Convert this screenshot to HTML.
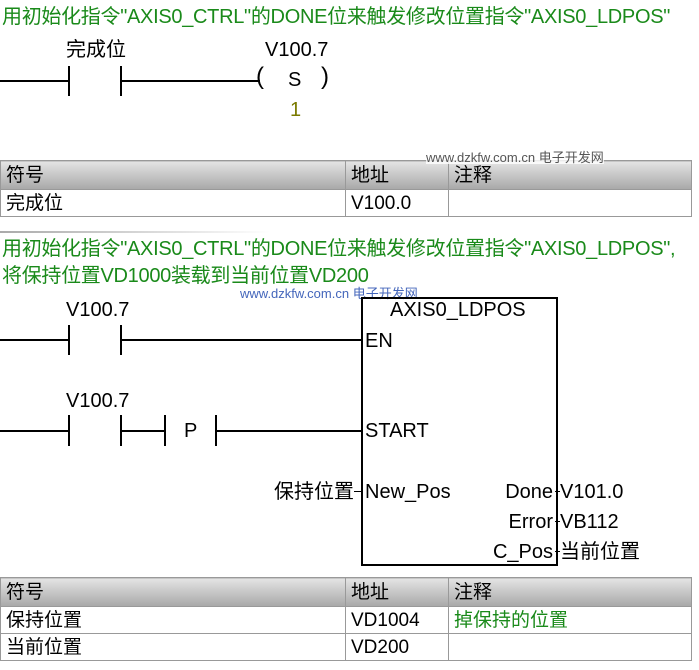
<!DOCTYPE html>
<html><head><meta charset="utf-8"><style>
body{margin:0;width:699px;height:670px;background:#fff;position:relative;overflow:hidden;font-family:"Liberation Sans","Noto Sans CJK SC",sans-serif;}
.t{position:absolute;white-space:nowrap;line-height:1;}
.g{color:#1a8a1a;font-size:20px;}
.k{color:#000;font-size:20px;}
.r{text-align:right;}
.h{position:absolute;background:#000;height:2px;}
.v{position:absolute;background:#000;width:2px;}
table{position:absolute;left:0;border-collapse:collapse;font-size:19px;}
td{border:1px solid #999;padding:0 5px;height:26px;line-height:1;}
tr.hd td{background:linear-gradient(#e4e4e4,#a8a8a8);height:28px;}
</style></head><body>
<div class="t g" style="left:2px;top:7px;letter-spacing:-0.3px">用初始化指令"AXIS0_CTRL"的DONE位来触发修改位置指令"AXIS0_LDPOS"</div>
<div class="t k" style="left:66px;top:40px">完成位</div>
<div class="t k" style="left:265px;top:40px">V100.7</div>
<div class="h" style="left:0;top:80px;width:69px"></div>
<div class="v" style="left:68px;top:66px;height:30px"></div>
<div class="v" style="left:120px;top:66px;height:30px"></div>
<div class="h" style="left:120px;top:80px;width:140px"></div>
<div class="t k" style="left:256px;top:65px;font-size:24px">(</div>
<div class="t k" style="left:288px;top:70px">S</div>
<div class="t k" style="left:321px;top:65px;font-size:24px">)</div>
<div class="t" style="left:290px;top:100px;font-size:20px;color:#7a7a00">1</div>
<table style="top:160px;width:692px">
<tr class="hd"><td style="width:334px">符号</td><td style="width:92px">地址</td><td>注释</td></tr>
<tr><td>完成位</td><td>V100.0</td><td></td></tr>
</table>
<div class="t" style="left:426px;top:151px;font-size:13px;color:#555;background:rgba(255,255,255,.8)">www.dzkfw.com.cn 电子开发网</div>
<div class="h" style="left:0;top:231px;width:270px;height:2px;background:linear-gradient(90deg,#aaa,#fff)"></div>
<div class="t g" style="left:2px;top:239px;letter-spacing:-0.3px">用初始化指令"AXIS0_CTRL"的DONE位来触发修改位置指令"AXIS0_LDPOS",</div>
<div class="t g" style="left:2px;top:266px;letter-spacing:-0.3px">将保持位置VD1000装载到当前位置VD200</div>
<div class="t" style="left:240px;top:287px;font-size:13px;color:#4466bb">www.dzkfw.com.cn 电子开发网</div>
<div style="position:absolute;left:361px;top:297px;width:193px;height:265px;border:2px solid #000"></div>
<div class="t k" style="left:390px;top:300px">AXIS0_LDPOS</div>
<div class="t k" style="left:66px;top:300px">V100.7</div>
<div class="h" style="left:0;top:339px;width:69px"></div>
<div class="v" style="left:68px;top:325px;height:30px"></div>
<div class="v" style="left:120px;top:325px;height:30px"></div>
<div class="h" style="left:120px;top:339px;width:242px"></div>
<div class="t k" style="left:365px;top:331px">EN</div>
<div class="t k" style="left:66px;top:391px">V100.7</div>
<div class="h" style="left:0;top:430px;width:69px"></div>
<div class="v" style="left:68px;top:415px;height:31px"></div>
<div class="v" style="left:120px;top:415px;height:31px"></div>
<div class="h" style="left:120px;top:430px;width:45px"></div>
<div class="v" style="left:164px;top:415px;height:31px"></div>
<div class="t k" style="left:184px;top:421px">P</div>
<div class="v" style="left:215px;top:415px;height:31px"></div>
<div class="h" style="left:215px;top:430px;width:147px"></div>
<div class="t k" style="left:365px;top:421px">START</div>
<div class="t k r" style="right:345px;top:482px">保持位置</div>
<div class="h" style="left:354px;top:491px;width:8px;height:1px"></div>
<div class="t k" style="left:365px;top:482px">New_Pos</div>
<div class="t k r" style="right:146px;top:482px">Done</div>
<div class="t k r" style="right:146px;top:512px">Error</div>
<div class="t k r" style="right:146px;top:542px">C_Pos</div>
<div class="h" style="left:555px;top:491px;width:5px;height:1px"></div>
<div class="h" style="left:555px;top:521px;width:5px;height:1px"></div>
<div class="h" style="left:555px;top:551px;width:5px;height:1px"></div>
<div class="t k" style="left:560px;top:482px">V101.0</div>
<div class="t k" style="left:560px;top:512px">VB112</div>
<div class="t k" style="left:560px;top:542px">当前位置</div>
<table style="top:577px;width:692px">
<tr class="hd"><td style="width:334px">符号</td><td style="width:92px">地址</td><td>注释</td></tr>
<tr><td>保持位置</td><td>VD1004</td><td style="color:#1a8a1a">掉保持的位置</td></tr>
<tr><td>当前位置</td><td>VD200</td><td></td></tr>
</table>
</body></html>
